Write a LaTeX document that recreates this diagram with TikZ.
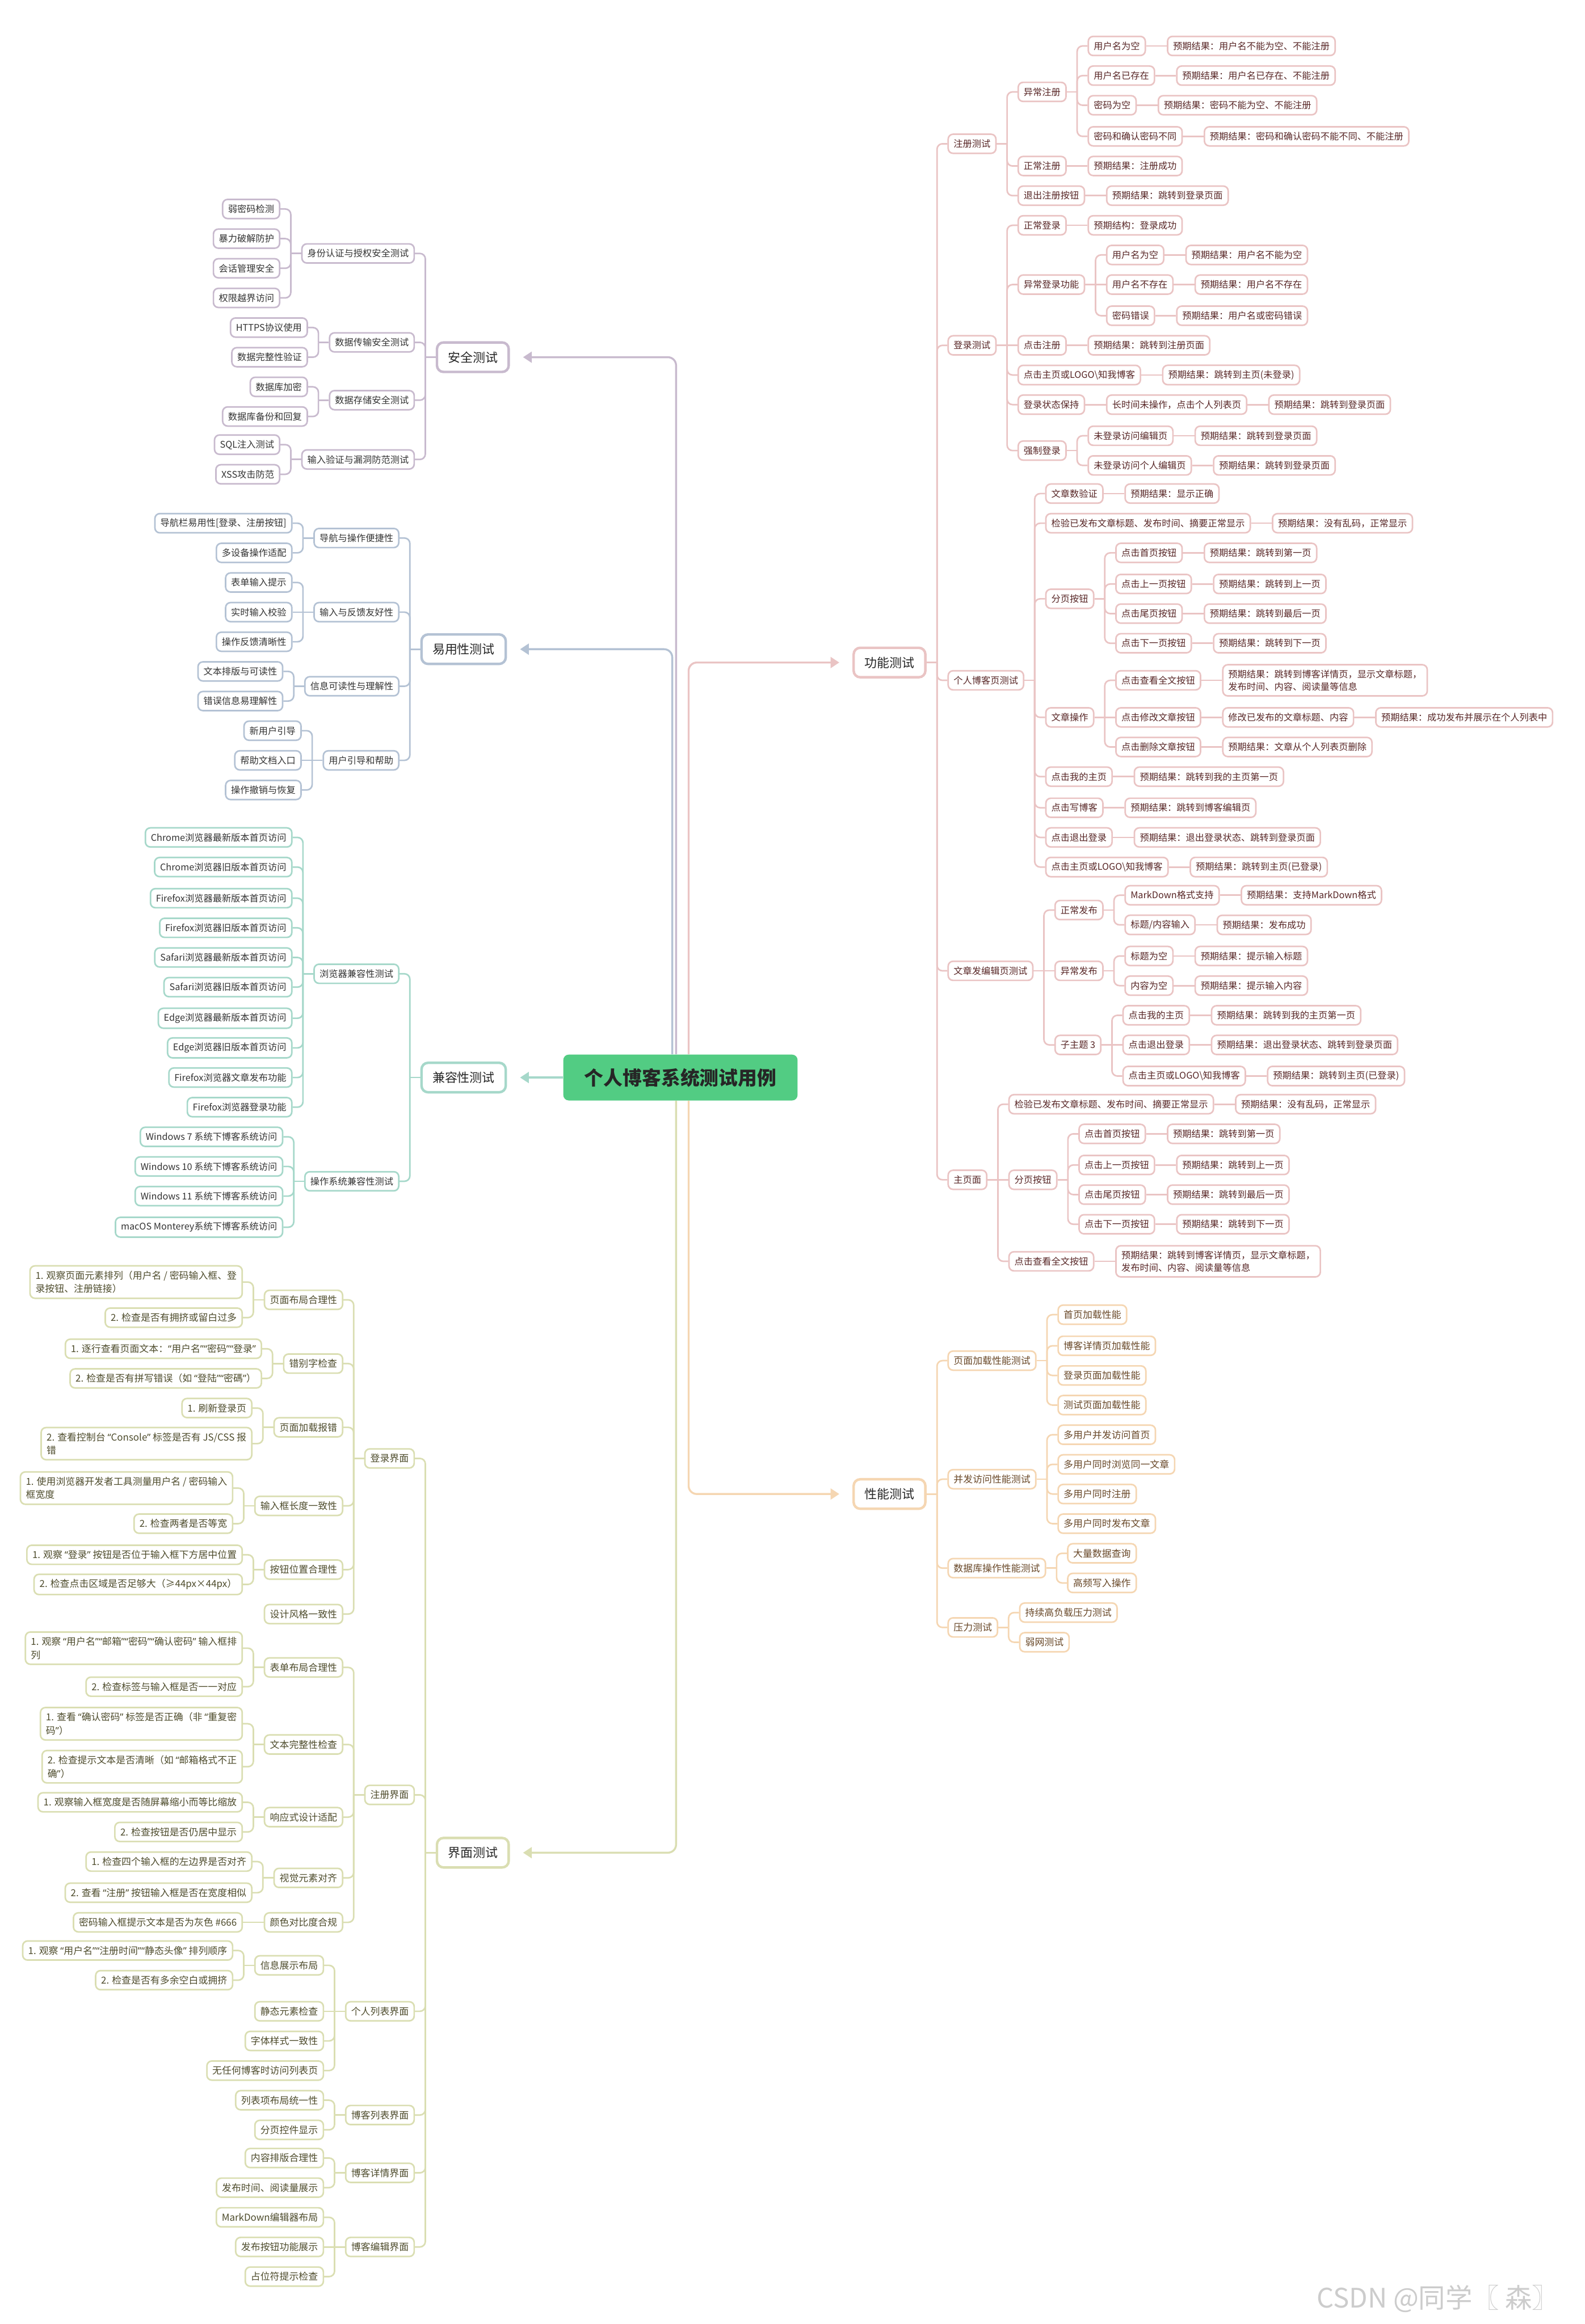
\documentclass[tikz,border=0pt]{standalone}
\usepackage{fontspec}
\setmainfont{Noto Sans CJK SC}
\newfontfamily\qfont{Noto Sans}
\usepackage{tikz}
\usetikzlibrary{arrows.meta,positioning}
\definecolor{rootgreen}{RGB}{82,204,131}
\definecolor{fnline}{RGB}{234,196,196}
\definecolor{fntext}{RGB}{88,38,38}
\definecolor{pfline}{RGB}{245,214,178}
\definecolor{pftext}{RGB}{105,72,40}
\definecolor{secline}{RGB}{200,186,206}
\definecolor{easyline}{RGB}{180,194,212}
\definecolor{compline}{RGB}{166,216,202}
\definecolor{uiline}{RGB}{218,222,178}
\definecolor{uitext}{RGB}{78,76,44}
\definecolor{darktext}{RGB}{51,51,51}
\newcommand{\nfont}{\fontsize{4.8}{6.6}\selectfont}
\newcommand{\rfont}{\fontsize{5}{7}\selectfont}
\newcommand{\ql}{{\qfont “}}
\newcommand{\qr}{{\qfont ”}}
\tikzset{
  base/.style={align=left, fill=white, rounded corners=0.09cm, line width=0.8pt, inner xsep=0.1cm, inner ysep=0.09cm, minimum height=0.35cm},
  func/.style={base, font=\nfont, draw=fnline, text=fntext},
  perf/.style={base, font=\rfont, draw=pfline, text=pftext},
  secu/.style={base, font=\nfont, draw=secline, text=darktext},
  easy/.style={base, font=\nfont, draw=easyline, text=darktext},
  compat/.style={base, font=\nfont, draw=compline, text=darktext},
  ui/.style={base, font=\rfont, draw=uiline, text=uitext},
  funclink/.style={draw=fnline, line width=0.8pt},
  perflink/.style={draw=pfline, line width=0.8pt},
  seculink/.style={draw=secline, line width=0.8pt},
  easylink/.style={draw=easyline, line width=0.8pt},
  compatlink/.style={draw=compline, line width=0.8pt},
  uilink/.style={draw=uiline, line width=0.8pt},
  topbox/.style={font=\fontsize{6.5}{8}\selectfont, fill=white, rounded corners=0.12cm, line width=1.3pt, inner xsep=0.2cm, minimum height=0.54cm, text=black!85},
  functop/.style={topbox, draw=fnline},
  perftop/.style={topbox, draw=pfline},
  secutop/.style={topbox, draw=secline},
  easytop/.style={topbox, draw=easyline},
  compattop/.style={topbox, draw=compline},
  uitop/.style={topbox, draw=uiline},
  rootbox/.style={fill=rootgreen, rounded corners=0.1cm, minimum width=4.29cm, minimum height=0.84cm, font=\fontsize{10}{12}\selectfont\bfseries, text=black!85},
  trunk/.style={line width=1pt, rounded corners=0.15cm, shorten >=0.24cm, -{Triangle[length=0.16cm,width=0.2cm]}},
}
% elbow connector: straight if same height, else stub + rounded turn
\newcommand{\elbow}[4]{%
  \path (#2) coordinate (pa) (#3) coordinate (pb);
  \pgfpointanchor{pa}{center}\pgfgetlastxy{\elbax}{\elbay}%
  \pgfpointanchor{pb}{center}\pgfgetlastxy{\elbbx}{\elbby}%
  \pgfmathsetmacro{\elbdy}{abs(\elbay-\elbby)}%
  \ifdim\elbdy pt<0.5pt
    \draw[#1] (pa) -- (pb);
  \else
    \draw[#1] (pa) -- ++(#4,0) coordinate (pc);
    \draw[#1,rounded corners=0.1cm] (pc) |- (pb);
  \fi}
% child to the right / left of a parent, at height #4
\newcommand{\rkid}[5]{%
  \path (#3.east) ++(14,0) coordinate (tmp);
  \coordinate (ty) at (0,#4);
  \node[#1,anchor=west] (#2) at (tmp |- ty) {#5};
  \elbow{#1link}{#3.east}{#2.west}{7}}
\newcommand{\lkid}[5]{%
  \path (#3.west) ++(-14,0) coordinate (tmp);
  \coordinate (ty) at (0,#4);
  \node[#1,anchor=east] (#2) at (tmp |- ty) {#5};
  \elbow{#1link}{#3.west}{#2.east}{-7}}
\newcommand{\rpair}[6]{\rkid{#1}{#2}{#3}{#4}{#5}\rkid{#1}{#2r}{#2}{#4}{#6}}

\begin{document}
\begin{tikzpicture}[x=0.02715cm,y=-0.02715cm]
  \useasboundingbox (0,0) rectangle (1069,1568);
  \fill[white] (0,0) rectangle (1069,1568);
  \node[rootbox] (rt) at (459,727) {个人博客系统测试用例};
  \node[functop,anchor=west] (fn) at (575,447) {功能测试};
  \node[perftop,anchor=west] (pf) at (575,1008) {性能测试};
  \node[secutop,anchor=east] (sc) at (344,241) {安全测试};
  \node[easytop,anchor=east] (ez) at (342,438) {易用性测试};
  \node[compattop,anchor=east] (cp) at (342,727) {兼容性测试};
  \node[uitop,anchor=east] (ux) at (344,1250) {界面测试};
  \draw[trunk,secline] ([xshift=-0.08cm]rt.north) |- (sc.east);
  \draw[trunk,easyline] ([xshift=-0.15cm]rt.north) |- (ez.east);
  \draw[trunk,compline] (rt.west) -- (cp.east);
  \draw[trunk,uiline] ([xshift=-0.08cm]rt.south) |- (ux.east);
  \draw[trunk,fnline] ([xshift=0.15cm]rt.north) |- (fn.west);
  \draw[trunk,pfline] ([xshift=0.15cm]rt.south) |- (pf.west);

  % 注册测试
  \rkid{func}{f1}{fn}{97}{注册测试}
  \rkid{func}{f1a}{f1}{62}{异常注册}
  \foreach \n/\y/\a/\b in {1/31/{用户名为空}/{预期结果：用户名不能为空、不能注册},
    2/51/{用户名已存在}/{预期结果：用户名已存在、不能注册},
    3/71/{密码为空}/{预期结果：密码不能为空、不能注册},
    4/92/{密码和确认密码不同}/{预期结果：密码和确认密码不能不同、不能注册}}{
    \rpair{func}{f1a\n}{f1a}{\y}{\a}{\b}}
  \rpair{func}{f1b}{f1}{112}{正常注册}{预期结果：注册成功}
  \rpair{func}{f1c}{f1}{132}{退出注册按钮}{预期结果：跳转到登录页面}
  % 登录测试
  \rkid{func}{f2}{fn}{233}{登录测试}
  \rpair{func}{f2a}{f2}{152}{正常登录}{预期结构：登录成功}
  \rkid{func}{f2b}{f2}{192}{异常登录功能}
  \foreach \n/\y/\a/\b in {1/172/{用户名为空}/{预期结果：用户名不能为空},
    2/192/{用户名不存在}/{预期结果：用户名不存在},
    3/213/{密码错误}/{预期结果：用户名或密码错误}}{
    \rpair{func}{f2b\n}{f2b}{\y}{\a}{\b}}
  \rpair{func}{f2c}{f2}{233}{点击注册}{预期结果：跳转到注册页面}
  \rpair{func}{f2d}{f2}{253}{点击主页或LOGO\textbackslash 知我博客}{预期结果：跳转到主页(未登录)}
  \rkid{func}{f2e}{f2}{273}{登录状态保持}
  \rpair{func}{f2e1}{f2e}{273}{长时间未操作，点击个人列表页}{预期结果：跳转到登录页面}
  \rkid{func}{f2f}{f2}{304}{强制登录}
  \rpair{func}{f2f1}{f2f}{294}{未登录访问编辑页}{预期结果：跳转到登录页面}
  \rpair{func}{f2f2}{f2f}{314}{未登录访问个人编辑页}{预期结果：跳转到登录页面}
  % 个人博客页测试
  \rkid{func}{f3}{fn}{459}{个人博客页测试}
  \rpair{func}{f3a}{f3}{333}{文章数验证}{预期结果：显示正确}
  \rpair{func}{f3b}{f3}{353}{检验已发布文章标题、发布时间、摘要正常显示}{预期结果：没有乱码，正常显示}
  \rkid{func}{f3c}{f3}{404}{分页按钮}
  \foreach \n/\y/\a/\b in {1/373/{点击首页按钮}/{预期结果：跳转到第一页},
    2/394/{点击上一页按钮}/{预期结果：跳转到上一页},
    3/414/{点击尾页按钮}/{预期结果：跳转到最后一页},
    4/434/{点击下一页按钮}/{预期结果：跳转到下一页}}{
    \rpair{func}{f3c\n}{f3c}{\y}{\a}{\b}}
  \rkid{func}{f3d}{f3}{484}{文章操作}
  \rpair{func}{f3d1}{f3d}{459}{点击查看全文按钮}{预期结果：跳转到博客详情页，显示文章标题，\\发布时间、内容、阅读量等信息}
  \rkid{func}{f3d2}{f3d}{484}{点击修改文章按钮}
  \rpair{func}{f3d2a}{f3d2}{484}{修改已发布的文章标题、内容}{预期结果：成功发布并展示在个人列表中}
  \rpair{func}{f3d3}{f3d}{504}{点击删除文章按钮}{预期结果：文章从个人列表页删除}
  \foreach \n/\y/\a/\b in {e/524/{点击我的主页}/{预期结果：跳转到我的主页第一页},
    f/545/{点击写博客}/{预期结果：跳转到博客编辑页},
    g/565/{点击退出登录}/{预期结果：退出登录状态、跳转到登录页面},
    h/585/{点击主页或LOGO\textbackslash 知我博客}/{预期结果：跳转到主页(已登录)}}{
    \rpair{func}{f3\n}{f3}{\y}{\a}{\b}}
  % 文章发编辑页测试
  \rkid{func}{f4}{fn}{655}{文章发编辑页测试}
  \rkid{func}{f4a}{f4}{614}{正常发布}
  \rpair{func}{f4a1}{f4a}{604}{MarkDown格式支持}{预期结果：支持MarkDown格式}
  \rpair{func}{f4a2}{f4a}{624}{标题/内容输入}{预期结果：发布成功}
  \rkid{func}{f4b}{f4}{655}{异常发布}
  \rpair{func}{f4b1}{f4b}{645}{标题为空}{预期结果：提示输入标题}
  \rpair{func}{f4b2}{f4b}{665}{内容为空}{预期结果：提示输入内容}
  \rkid{func}{f4c}{f4}{705}{子主题 3}
  \rpair{func}{f4c1}{f4c}{685}{点击我的主页}{预期结果：跳转到我的主页第一页}
  \rpair{func}{f4c2}{f4c}{705}{点击退出登录}{预期结果：退出登录状态、跳转到登录页面}
  \rpair{func}{f4c3}{f4c}{726}{点击主页或LOGO\textbackslash 知我博客}{预期结果：跳转到主页(已登录)}
  % 主页面
  \rkid{func}{f5}{fn}{796}{主页面}
  \rpair{func}{f5a}{f5}{745}{检验已发布文章标题、发布时间、摘要正常显示}{预期结果：没有乱码，正常显示}
  \rkid{func}{f5b}{f5}{796}{分页按钮}
  \foreach \n/\y/\a/\b in {1/765/{点击首页按钮}/{预期结果：跳转到第一页},
    2/786/{点击上一页按钮}/{预期结果：跳转到上一页},
    3/806/{点击尾页按钮}/{预期结果：跳转到最后一页},
    4/826/{点击下一页按钮}/{预期结果：跳转到下一页}}{
    \rpair{func}{f5b\n}{f5b}{\y}{\a}{\b}}
  \rpair{func}{f5c}{f5}{851}{点击查看全文按钮}{预期结果：跳转到博客详情页，显示文章标题，\\发布时间、内容、阅读量等信息}

  % 性能测试
  \rkid{perf}{p1}{pf}{918}{页面加载性能测试}
  \foreach \n/\y/\a in {1/887/首页加载性能, 2/908/博客详情页加载性能, 3/928/登录页面加载性能, 4/948/测试页面加载性能}{
    \rkid{perf}{p1\n}{p1}{\y}{\a}}
  \rkid{perf}{p2}{pf}{998}{并发访问性能测试}
  \foreach \n/\y/\a in {1/968/多用户并发访问首页, 2/988/多用户同时浏览同一文章, 3/1008/多用户同时注册, 4/1028/多用户同时发布文章}{
    \rkid{perf}{p2\n}{p2}{\y}{\a}}
  \rkid{perf}{p3}{pf}{1058}{数据库操作性能测试}
  \rkid{perf}{p31}{p3}{1048}{大量数据查询}
  \rkid{perf}{p32}{p3}{1068}{高频写入操作}
  \rkid{perf}{p4}{pf}{1098}{压力测试}
  \rkid{perf}{p41}{p4}{1088}{持续高负载压力测试}
  \rkid{perf}{p42}{p4}{1108}{弱网测试}

  % 安全测试
  \lkid{secu}{s1}{sc}{171}{身份认证与授权安全测试}
  \foreach \n/\y/\a in {1/141/弱密码检测, 2/161/暴力破解防护, 3/181/会话管理安全, 4/201/权限越界访问}{
    \lkid{secu}{s1\n}{s1}{\y}{\a}}
  \lkid{secu}{s2}{sc}{231}{数据传输安全测试}
  \lkid{secu}{s21}{s2}{221}{HTTPS协议使用}
  \lkid{secu}{s22}{s2}{241}{数据完整性验证}
  \lkid{secu}{s3}{sc}{270}{数据存储安全测试}
  \lkid{secu}{s31}{s3}{261}{数据库加密}
  \lkid{secu}{s32}{s3}{281}{数据库备份和回复}
  \lkid{secu}{s4}{sc}{310}{输入验证与漏洞防范测试}
  \lkid{secu}{s41}{s4}{300}{SQL注入测试}
  \lkid{secu}{s42}{s4}{320}{XSS攻击防范}

  % 易用性测试
  \lkid{easy}{e1}{ez}{363}{导航与操作便捷性}
  \lkid{easy}{e11}{e1}{353}{导航栏易用性[登录、注册按钮]}
  \lkid{easy}{e12}{e1}{373}{多设备操作适配}
  \lkid{easy}{e2}{ez}{413}{输入与反馈友好性}
  \foreach \n/\y/\a in {1/393/表单输入提示, 2/413/实时输入校验, 3/433/操作反馈清晰性}{
    \lkid{easy}{e2\n}{e2}{\y}{\a}}
  \lkid{easy}{e3}{ez}{463}{信息可读性与理解性}
  \lkid{easy}{e31}{e3}{453}{文本排版与可读性}
  \lkid{easy}{e32}{e3}{473}{错误信息易理解性}
  \lkid{easy}{e4}{ez}{513}{用户引导和帮助}
  \foreach \n/\y/\a in {1/493/新用户引导, 2/513/帮助文档入口, 3/533/操作撤销与恢复}{
    \lkid{easy}{e4\n}{e4}{\y}{\a}}

  % 兼容性测试
  \lkid{compat}{c1}{cp}{657}{浏览器兼容性测试}
  \foreach \n/\y/\a in {1/565/Chrome浏览器最新版本首页访问, 2/585/Chrome浏览器旧版本首页访问,
    3/606/Firefox浏览器最新版本首页访问, 4/626/Firefox浏览器旧版本首页访问,
    5/646/Safari浏览器最新版本首页访问, 6/666/Safari浏览器旧版本首页访问,
    7/687/Edge浏览器最新版本首页访问, 8/707/Edge浏览器旧版本首页访问,
    9/727/Firefox浏览器文章发布功能, 10/747/Firefox浏览器登录功能}{
    \lkid{compat}{c1\n}{c1}{\y}{\a}}
  \lkid{compat}{c2}{cp}{797}{操作系统兼容性测试}
  \foreach \n/\y/\a in {1/767/{Windows 7 系统下博客系统访问}, 2/787/{Windows 10 系统下博客系统访问},
    3/807/{Windows 11 系统下博客系统访问}, 4/828/{macOS Monterey系统下博客系统访问}}{
    \lkid{compat}{c2\n}{c2}{\y}{\a}}

  % 界面测试 - 登录界面
  \lkid{ui}{i1}{ux}{984}{登录界面}
  \lkid{ui}{i1a}{i1}{877}{页面布局合理性}
  \lkid{ui}{i1a1}{i1a}{865}{1. 观察页面元素排列（用户名 / 密码输入框、登\\录按钮、注册链接）}
  \lkid{ui}{i1a2}{i1a}{889}{2. 检查是否有拥挤或留白过多}
  \lkid{ui}{i1b}{i1}{920}{错别字检查}
  \lkid{ui}{i1b1}{i1b}{910}{1. 逐行查看页面文本：\ql 用户名\qr\ql 密码\qr\ql 登录\qr}
  \lkid{ui}{i1b2}{i1b}{930}{2. 检查是否有拼写错误（如 \ql 登陆\qr\ql 密碼\qr）}
  \lkid{ui}{i1c}{i1}{963}{页面加载报错}
  \lkid{ui}{i1c1}{i1c}{950}{1. 刷新登录页}
  \lkid{ui}{i1c2}{i1c}{974}{2. 查看控制台 \ql Console\qr\ 标签是否有 JS/CSS 报\\错}
  \lkid{ui}{i1d}{i1}{1016}{输入框长度一致性}
  \lkid{ui}{i1d1}{i1d}{1004}{1. 使用浏览器开发者工具测量用户名 / 密码输入\\框宽度}
  \lkid{ui}{i1d2}{i1d}{1028}{2. 检查两者是否等宽}
  \lkid{ui}{i1e}{i1}{1059}{按钮位置合理性}
  \lkid{ui}{i1e1}{i1e}{1049}{1. 观察 \ql 登录\qr\ 按钮是否位于输入框下方居中位置}
  \lkid{ui}{i1e2}{i1e}{1069}{2. 检查点击区域是否足够大（≥44px×44px）}
  \lkid{ui}{i1f}{i1}{1089}{设计风格一致性}
  % 注册界面
  \lkid{ui}{i2}{ux}{1211}{注册界面}
  \lkid{ui}{i2a}{i2}{1125}{表单布局合理性}
  \lkid{ui}{i2a1}{i2a}{1112}{1. 观察 \ql 用户名\qr\ql 邮箱\qr\ql 密码\qr\ql 确认密码\qr\ 输入框排\\列}
  \lkid{ui}{i2a2}{i2a}{1138}{2. 检查标签与输入框是否一一对应}
  \lkid{ui}{i2b}{i2}{1177}{文本完整性检查}
  \lkid{ui}{i2b1}{i2b}{1163}{1. 查看 \ql 确认密码\qr\ 标签是否正确（非 \ql 重复密\\码\qr）}
  \lkid{ui}{i2b2}{i2b}{1192}{2. 检查提示文本是否清晰（如 \ql 邮箱格式不正\\确\qr）}
  \lkid{ui}{i2c}{i2}{1226}{响应式设计适配}
  \lkid{ui}{i2c1}{i2c}{1216}{1. 观察输入框宽度是否随屏幕缩小而等比缩放}
  \lkid{ui}{i2c2}{i2c}{1236}{2. 检查按钮是否仍居中显示}
  \lkid{ui}{i2d}{i2}{1267}{视觉元素对齐}
  \lkid{ui}{i2d1}{i2d}{1256}{1. 检查四个输入框的左边界是否对齐}
  \lkid{ui}{i2d2}{i2d}{1277}{2. 查看 \ql 注册\qr\ 按钮输入框是否在宽度相似}
  \lkid{ui}{i2e}{i2}{1297}{颜色对比度合规}
  \lkid{ui}{i2e1}{i2e}{1297}{密码输入框提示文本是否为灰色 \#666}
  % 个人列表界面 and others
  \lkid{ui}{i3}{ux}{1357}{个人列表界面}
  \lkid{ui}{i3a}{i3}{1326}{信息展示布局}
  \lkid{ui}{i3a1}{i3a}{1316}{1. 观察 \ql 用户名\qr\ql 注册时间\qr\ql 静态头像\qr\ 排列顺序}
  \lkid{ui}{i3a2}{i3a}{1336}{2. 检查是否有多余空白或拥挤}
  \lkid{ui}{i3b}{i3}{1357}{静态元素检查}
  \lkid{ui}{i3c}{i3}{1377}{字体样式一致性}
  \lkid{ui}{i3d}{i3}{1397}{无任何博客时访问列表页}
  \lkid{ui}{i4}{ux}{1427}{博客列表界面}
  \lkid{ui}{i4a}{i4}{1417}{列表项布局统一性}
  \lkid{ui}{i4b}{i4}{1437}{分页控件显示}
  \lkid{ui}{i5}{ux}{1466}{博客详情界面}
  \lkid{ui}{i5a}{i5}{1456}{内容排版合理性}
  \lkid{ui}{i5b}{i5}{1476}{发布时间、阅读量展示}
  \lkid{ui}{i6}{ux}{1516}{博客编辑界面}
  \lkid{ui}{i6a}{i6}{1496}{MarkDown编辑器布局}
  \lkid{ui}{i6b}{i6}{1516}{发布按钮功能展示}
  \lkid{ui}{i6c}{i6}{1536}{占位符提示检查}

  \node[text=gray!40, font=\fontsize{14}{16}\selectfont] (wm) at (970,1551) {CSDN @同学〖 森〗};
\end{tikzpicture}
\end{document}
